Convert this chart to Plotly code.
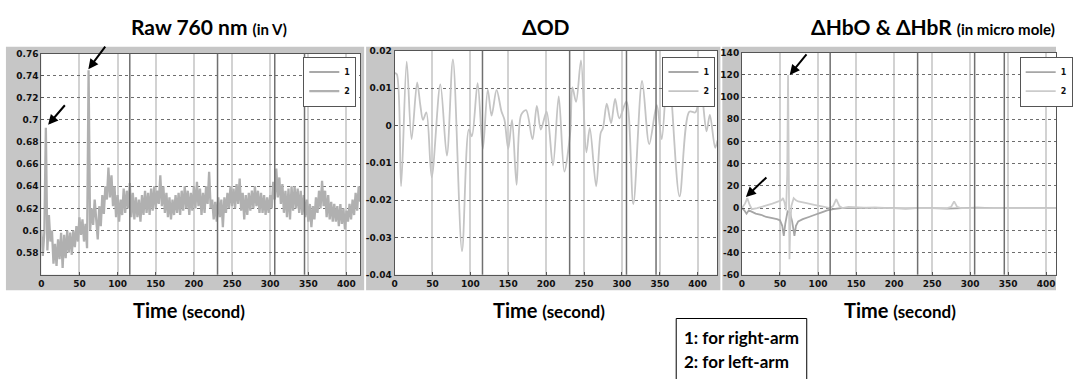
import plotly.graph_objects as go

W, H = 1073, 379

# ---------------- data ----------------
raw_t = list(range(0, 425, 2))
raw_v = [
    0.600, 0.577, 0.598, 0.693, 0.582, 0.614, 0.590, 0.600, 0.570, 0.588,
    0.568, 0.592, 0.574, 0.598, 0.566, 0.596, 0.575, 0.600, 0.580, 0.598,
    0.578, 0.600, 0.585, 0.604, 0.590, 0.612, 0.596, 0.610, 0.590, 0.606,
    0.584, 0.745, 0.600, 0.620, 0.605, 0.628, 0.610, 0.592, 0.622, 0.604,
    0.632, 0.615, 0.640, 0.628, 0.657, 0.630, 0.650, 0.622, 0.640, 0.612,
    0.632, 0.608, 0.628, 0.614, 0.638, 0.616, 0.636, 0.620, 0.643, 0.612,
    0.634, 0.610, 0.630, 0.612, 0.628, 0.608, 0.632, 0.614, 0.636, 0.616,
    0.634, 0.614, 0.638, 0.618, 0.640, 0.620, 0.636, 0.624, 0.650, 0.622,
    0.640, 0.616, 0.634, 0.612, 0.630, 0.610, 0.628, 0.614, 0.632, 0.616,
    0.634, 0.614, 0.636, 0.618, 0.640, 0.620, 0.636, 0.614, 0.634, 0.618,
    0.640, 0.620, 0.644, 0.622, 0.638, 0.614, 0.634, 0.616, 0.640, 0.624,
    0.653, 0.620, 0.628, 0.610, 0.626, 0.608, 0.630, 0.612, 0.628, 0.603,
    0.630, 0.616, 0.634, 0.620, 0.640, 0.622, 0.638, 0.620, 0.642, 0.624,
    0.647, 0.618, 0.634, 0.610, 0.632, 0.614, 0.634, 0.618, 0.636, 0.620,
    0.640, 0.622, 0.636, 0.616, 0.634, 0.616, 0.632, 0.614, 0.630, 0.616,
    0.632, 0.620, 0.644, 0.628, 0.656, 0.630, 0.648, 0.624, 0.642, 0.616,
    0.636, 0.612, 0.638, 0.610, 0.640, 0.618, 0.640, 0.620, 0.638, 0.616,
    0.636, 0.614, 0.632, 0.612, 0.628, 0.608, 0.624, 0.603, 0.622, 0.610,
    0.630, 0.616, 0.636, 0.620, 0.645, 0.622, 0.636, 0.612, 0.632, 0.610,
    0.626, 0.608, 0.624, 0.608, 0.622, 0.604, 0.624, 0.606, 0.620, 0.601,
    0.618, 0.608, 0.624, 0.610, 0.628, 0.614, 0.634, 0.618, 0.640, 0.626,
    0.645, 0.628, 0.642,
]

od_t = [0, 3, 8.6, 16, 22.4, 29.8, 34, 37.5, 42, 49, 60.4, 69, 77, 89, 98, 102,
        109.6, 116.5, 123, 128, 134.6, 141, 145, 150, 155, 161, 167, 173.5, 182,
        187.7, 193, 200.6, 209, 216.6, 224, 231.7, 234.7, 239.5, 246, 253, 257.6,
        266, 272, 275, 280, 285.7, 291, 296.5, 306, 315, 326.6, 336, 346, 352.5,
        361, 376, 389, 397, 404, 411.6, 416, 423, 426]
od_v = [0.0141, 0.0137, -0.0163, 0.0171, -0.0037, 0.0115, 0.0054, 0.0015, 0.0035,
        -0.0139, 0.0110, -0.0081, 0.0177, -0.0337, -0.0011, -0.0029, 0.0113,
        -0.0063, 0.0096, 0.0026, 0.0095, 0.0038, 0.0015, -0.0063, 0.0015, -0.0159,
        0.0028, 0.0041, -0.0037, 0.0052, -0.0011, 0.0037, -0.0107, 0.0078, -0.0124,
        -0.0020, 0.0102, 0.0063, 0.0174, -0.0072, -0.0007, -0.0163, -0.0020,
        -0.0007, 0.0058, 0.0006, 0.0071, 0.0019, 0.0064, -0.0211, 0.0119, -0.0050,
        0.0054, -0.0037, 0.0163, -0.0190, 0.0037, 0.0035, 0.0097, -0.0016, 0.0028,
        -0.0060, -0.0040]

hb_t1 = [0, 3, 6, 9, 12, 18, 25, 32, 40, 46, 50, 53, 55, 57, 60, 63, 66, 69, 71, 74,
         80, 88, 96, 104, 112, 120, 130, 150, 175, 200, 215, 230, 250, 270, 290,
         310, 330, 350, 370, 390, 413]
hb_v1 = [0, -2, -5, -2, -3, -5, -6, -8, -9, -10, -11, -16, -25, -14, -3, -4, -12, -25,
         -16, -12, -10, -8, -6, -4, -2, -1, 0, 0, 0.5, 0, -0.5, 0, 0, -0.5, 0, 0.5,
         0, 0, 0, 0, 0]
hb_t2 = [0, 4, 7, 10, 13, 20, 30, 40, 48, 52, 54, 56, 58, 59.5, 60.6, 61.5, 62.5,
         63.5, 65, 68, 71, 74, 85, 95, 105, 116, 120, 124, 128, 132, 140, 160, 200,
         240, 270, 275, 279, 283, 288, 320, 360, 413]
hb_v2 = [0, 4, 9, 3, -1, 0, 2, 4, 6, 7, 9, 5, -2, 30, 120, 40, -46, -15, 2, 9, 7, 6,
         4.5, 3, 1.5, 0, 2, 8, 2, 0, 1, 0.5, 0, 0, 0, 1, 6, 1, 0, 0, 0, 0]

event_t = [116, 231, 306, 345]

x_ticks = [0, 50, 100, 150, 200, 250, 300, 350, 400]
raw_yticks = [0.58, 0.60, 0.62, 0.64, 0.66, 0.68, 0.70, 0.72, 0.74, 0.76]
raw_ylabels = ["0.58", "0.6", "0.62", "0.64", "0.66", "0.68", "0.7", "0.72", "0.74", "0.76"]
od_yticks = [-0.04, -0.03, -0.02, -0.01, 0, 0.01, 0.02]
od_ylabels = ["-0.04", "-0.03", "-0.02", "-0.01", "0", "0.01", "0.02"]
hb_yticks = [-60, -40, -20, 0, 20, 40, 60, 80, 100, 120, 140]

legend_names = ["1", "2"]
arm_labels = ["1: for right-arm", "2: for left-arm"]

# ---------------- layout helpers ----------------
def px_x(p):
    return p / W

def px_y(p):
    return 1 - p / H

tick_font = dict(family="DejaVu Sans", size=9, color="#111", weight="bold")

def xaxis(l, r, rng, anchor):
    return dict(domain=[px_x(l), px_x(r)], range=rng, anchor=anchor,
                tickvals=x_ticks, ticktext=[str(v) for v in x_ticks],
                showgrid=True, gridcolor="#d2d2d2", gridwidth=1.5,
                ticks="inside", ticklen=3, tickcolor="#555",
                showline=True, linecolor="#555", linewidth=1, mirror=True,
                zeroline=False, tickfont=tick_font, ticklabelstandoff=1)

def yaxis(t, b, rng, anchor, vals, labels):
    return dict(domain=[px_y(b), px_y(t)], range=rng, anchor=anchor,
                tickvals=vals, ticktext=labels,
                showgrid=True, gridcolor="#6e6e6e", gridwidth=1, griddash="dot",
                ticks="inside", ticklen=3, tickcolor="#555",
                showline=True, linecolor="#555", linewidth=1, mirror=True,
                zeroline=False, tickfont=tick_font)

c1, c2 = "#8c8c8c", "#cbcbcb"

fig = go.Figure()
# left panel
fig.add_trace(go.Scatter(x=[None], y=[None], mode="lines", name=legend_names[0],
                         line=dict(color=c1, width=1.5), xaxis="x", yaxis="y", legend="legend"))
fig.add_trace(go.Scatter(x=raw_t, y=raw_v, mode="lines", name=legend_names[1],
                         line=dict(color="#b0b0b0", width=2.3, simplify=False),
                         xaxis="x", yaxis="y", legend="legend"))
# middle panel
fig.add_trace(go.Scatter(x=[None], y=[None], mode="lines", name=legend_names[0],
                         line=dict(color=c1, width=1.5), xaxis="x2", yaxis="y2", legend="legend2"))
fig.add_trace(go.Scatter(x=od_t, y=od_v, mode="lines", name=legend_names[1],
                         line=dict(color="#c4c4c4", width=1.8, shape="spline", smoothing=0.9,
                                   simplify=False),
                         xaxis="x2", yaxis="y2", legend="legend2"))
# right panel
fig.add_trace(go.Scatter(x=hb_t1, y=hb_v1, mode="lines", name=legend_names[0],
                         line=dict(color="#a6a6a6", width=1.8, simplify=False),
                         xaxis="x3", yaxis="y3", legend="legend3"))
fig.add_trace(go.Scatter(x=hb_t2, y=hb_v2, mode="lines", name=legend_names[1],
                         line=dict(color=c2, width=1.8, simplify=False),
                         xaxis="x3", yaxis="y3", legend="legend3"))

shapes = []
# gray figure frames with white plot areas
frames = [(3, 368, 43, 293, 39, 364, 50, 277),
          (370, 731, 43, 293, 399, 728, 47, 277),
          (733, 1073, 43, 293, 753, 1073, 49, 277)]
for fx0, fx1, fy0, fy1, ax0, ax1, ay0, ay1 in frames:
    shapes.append(dict(type="rect", xref="paper", yref="paper", layer="below",
                       x0=px_x(fx0), x1=px_x(fx1), y0=px_y(fy1), y1=px_y(fy0),
                       fillcolor="#c6c6c6", line=dict(width=0)))
    shapes.append(dict(type="rect", xref="paper", yref="paper", layer="below",
                       x0=px_x(ax0), x1=px_x(ax1), y0=px_y(ay1), y1=px_y(ay0),
                       fillcolor="white", line=dict(width=0)))
# event markers
for xr, yr in [("x", "y"), ("x2", "y2"), ("x3", "y3")]:
    for t in event_t:
        shapes.append(dict(type="line", xref=xr, yref=yr + " domain", x0=t, x1=t,
                           y0=0, y1=1, layer="above", line=dict(color="#707070", width=1.5)))
# arm box
shapes.append(dict(type="rect", xref="paper", yref="paper", x0=px_x(686), x1=px_x(819),
                   y0=-0.1, y1=px_y(322), line=dict(color="black", width=1), fillcolor="white"))

title_font = dict(family="Lato", color="black", weight="bold")
annotations = [
    dict(text="Raw 760 nm <span style='font-size:15px'>(in V)</span>", x=px_x(210), y=px_y(22)),
    dict(text="ΔOD", x=px_x(553), y=px_y(22)),
    dict(text="ΔHbO &amp; ΔHbR <span style='font-size:15px'>(in micro mole)</span>", x=px_x(948), y=px_y(22)),
]
annotations = [dict(a, xref="paper", yref="paper", showarrow=False, xanchor="center",
                    yanchor="middle", font=dict(title_font, size=21)) for a in annotations]
for cx in [190, 556, 914]:
    annotations.append(dict(text="Time <span style='font-size:17px'>(second)</span>",
                            x=px_x(cx), y=px_y(313), xref="paper", yref="paper",
                            showarrow=False, xanchor="center", yanchor="middle",
                            font=dict(title_font, size=20)))
for i, lab in enumerate(arm_labels):
    annotations.append(dict(text=lab, x=px_x(692), y=px_y(342 + 24 * i), xref="paper",
                            yref="paper", showarrow=False, xanchor="left", yanchor="middle",
                            font=dict(title_font, size=17)))
# arrows
arrow_pts = [("x", "y", 61.7, 0.746, 18, -24), ("x", "y", 9, 0.6957, 18, -21),
             ("x3", "y3", 62.8, 120, 18, -22), ("x3", "y3", 5.2, 10, 22, -21)]
for xr, yr, xx, yy, ax, ay in arrow_pts:
    annotations.append(dict(x=xx, y=yy, xref=xr, yref=yr, ax=ax, ay=ay, text="",
                            showarrow=True, arrowhead=2, arrowsize=1, arrowwidth=2,
                            arrowcolor="black", standoff=0))

leg = dict(bgcolor="white", bordercolor="#555", borderwidth=1, xanchor="right",
           yanchor="top", font=dict(family="DejaVu Sans", size=8, color="#111", weight="bold"),
           tracegroupgap=0, itemwidth=30)

fig.update_layout(
    width=W, height=H, margin=dict(l=0, r=0, t=0, b=0),
    paper_bgcolor="white", plot_bgcolor="white", showlegend=True,
    xaxis=xaxis(39, 364, [0, 418], "y"),
    yaxis=yaxis(50, 277, [0.56, 0.76], "x", raw_yticks, raw_ylabels),
    xaxis2=xaxis(399, 728, [0, 426], "y2"),
    yaxis2=yaxis(47, 277, [-0.04, 0.02], "x2", od_yticks, od_ylabels),
    xaxis3=xaxis(753, 1073, [0, 413], "y3"),
    yaxis3=yaxis(49, 277, [-60, 140], "x3", hb_yticks, [str(v) for v in hb_yticks]),
    legend=dict(leg, x=px_x(360), y=px_y(53)),
    legend2=dict(leg, x=px_x(726), y=px_y(53)),
    legend3=dict(leg, x=px_x(1090), y=px_y(53)),
    shapes=shapes, annotations=annotations,
)

fig.write_html("out.html", config={"displayModeBar": False},
               post_script="document.body.style.margin='0';document.body.style.overflow='hidden';")
